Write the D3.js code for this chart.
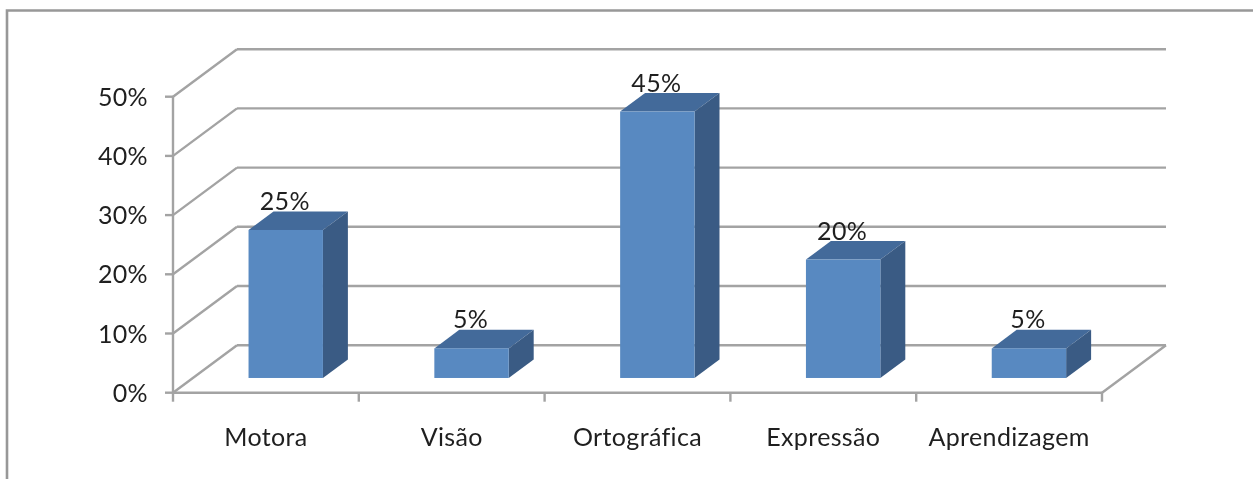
<!DOCTYPE html>
<html><head><meta charset="utf-8">
<script src="https://cdn.jsdelivr.net/npm/d3@7/dist/d3.min.js"></script>
<style>html,body{margin:0;background:#fff}svg{display:block;filter:blur(0.5px)}text{font-family:Lato,"Noto Sans",sans-serif;fill:#1f1f1f;letter-spacing:.35px}</style>
</head><body><svg id="c" width="1253" height="479"></svg>
<script>
const categories=["Motora","Visão","Ortográfica","Expressão","Aprendizagem"];
const values=[25,5,45,20,5];
const yTicks=[0,10,20,30,40,50];
const svg=d3.select("#c");
const gridColor="#a3a3a3";
const x=d3.scaleBand().domain(categories).range([173,1102]);
const y=d3.scaleLinear().domain([0,50]).range([392.7,96.7]);
const DX=64,DY=-47.5;
const fs=25;
const line=(a,b,c,d,col=gridColor,w=2.4)=>svg.append("line").attr("x1",a).attr("y1",b).attr("x2",c).attr("y2",d).attr("stroke",col).attr("stroke-width",w);
// frame
svg.append("path").attr("d","M7,479V10.5H1253").attr("fill","none").attr("stroke","#989898").attr("stroke-width",2.6);
// gridlines
yTicks.forEach(t=>{
  const py=y(t);
  line(173,py,173+DX,py+DY);
  line(173+DX,py+DY,1102+DX,py+DY);
  line(165,py,173,py);
  svg.append("text").attr("x",148).attr("y",py+9).attr("text-anchor","end").attr("font-size",fs).text(t+"%");
});
line(173,y(0),173,y(50));
line(173,y(0),1102,y(0));
line(1102,y(0),1102+DX,y(0)+DY);
// category ticks
d3.range(6).forEach(i=>line(173+i*x.bandwidth(),y(0),173+i*x.bandwidth(),y(0)+9));
// bars
const bw=74.4,off=0.31,depth=0.39;
categories.forEach((c,i)=>{
  const v=values[i];
  const cx=x(c)+x.bandwidth()/2+off*DX;
  const l=cx-bw/2,r=cx+bw/2,dx=depth*DX,dy=depth*DY,sy=off*DY;
  const b=y(0)+sy,t=y(v)+sy;
  svg.append("path").attr("fill","#436a9a").attr("d",`M${l},${t}L${l+dx},${t+dy}H${r+dx}L${r},${t}Z`);
  svg.append("path").attr("fill","#3a5b84").attr("d",`M${r},${t}L${r+dx},${t+dy}V${b+dy}L${r},${b}Z`);
  svg.append("rect").attr("x",l).attr("y",t).attr("width",bw).attr("height",b-t).attr("fill","#5889c1");
  svg.append("text").attr("x",cx-1).attr("y",t-20).attr("text-anchor","middle").attr("font-size",fs).text(v+"%");
  svg.append("text").attr("x",x(c)+x.bandwidth()/2).attr("y",446).attr("text-anchor","middle").attr("font-size",fs).text(c);
});
</script></body></html>
